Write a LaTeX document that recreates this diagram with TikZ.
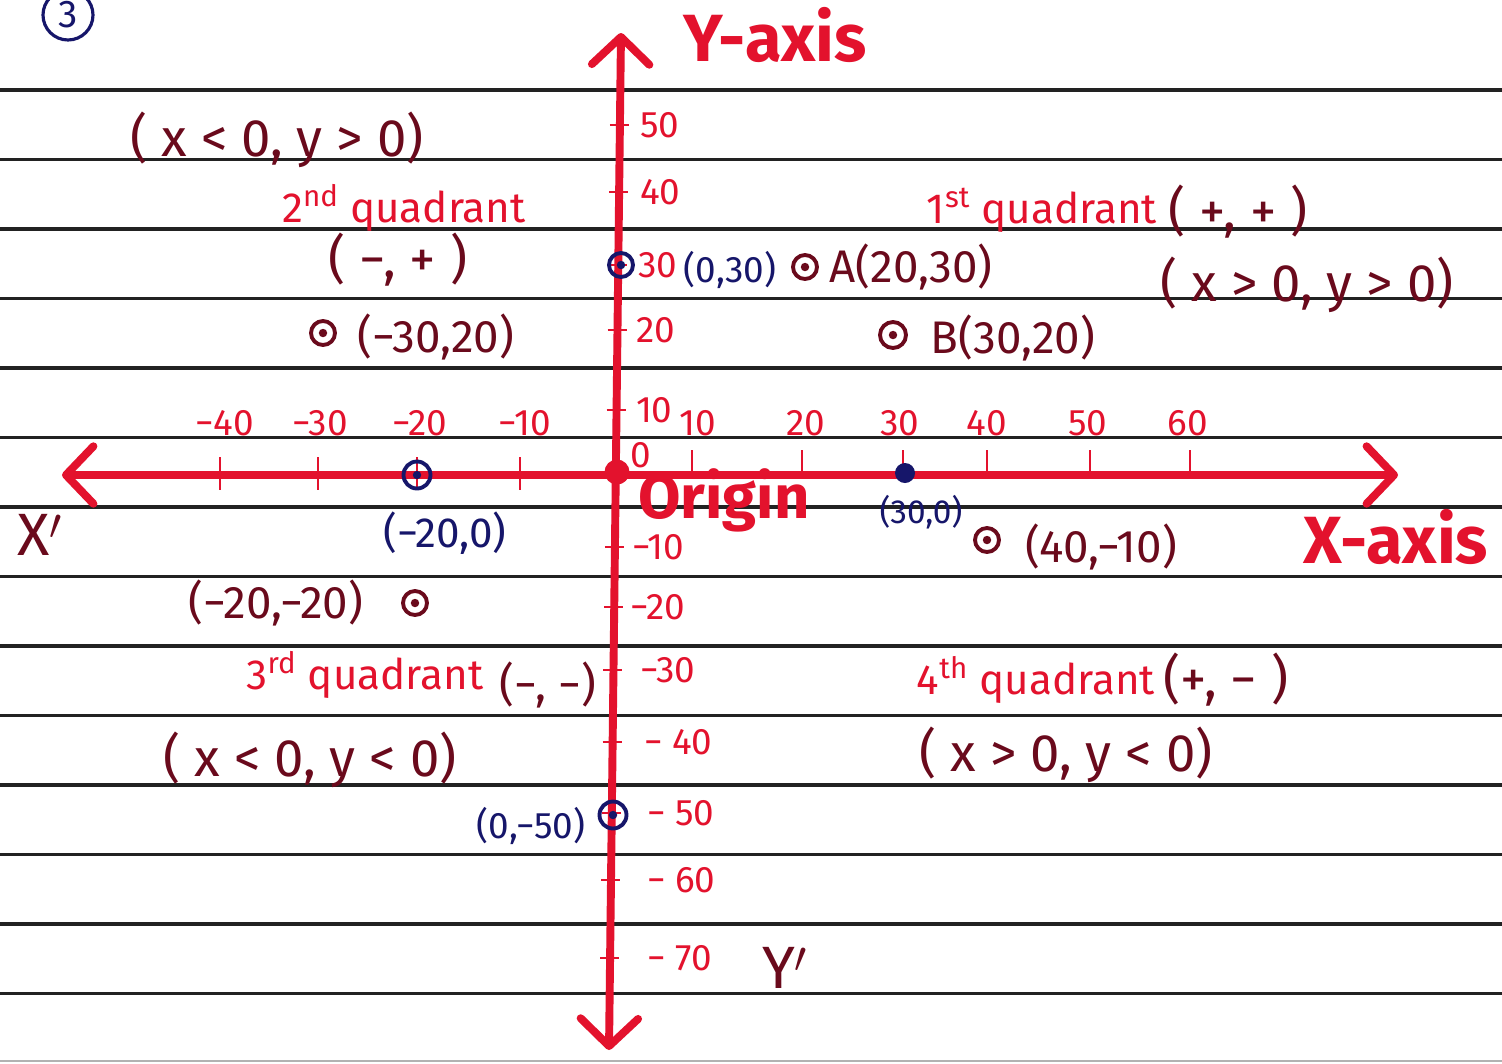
\documentclass[tikz,border=0pt]{standalone}
\usepackage{fontspec}
\setmainfont{Fira Sans}
\usetikzlibrary{arrows.meta}
\definecolor{axisRed}{HTML}{E3122D}
\definecolor{noteMaroon}{HTML}{6A0A1C}
\definecolor{pointNavy}{HTML}{16166A}
\definecolor{ruleBlack}{HTML}{222222}
\tikzset{
  grid sheet/.style={x=0.02cm, y=-0.02cm,
    every node/.style={inner sep=0pt, outer sep=0pt}},
  rule line/.style={draw=ruleBlack, line width=2.2pt},
  axis line/.style={draw=axisRed, line width=4.5pt, line cap=round,
    {Straight Barb[round,length=0.55cm,width=1.15cm]}-{Straight Barb[round,length=0.55cm,width=1.15cm]}},
  axis tick/.style={draw=axisRed, line width=1.6pt},
  tick text/.style={text=axisRed, font=\fontsize{21}{24}\selectfont},
  note text/.style={text=noteMaroon, font=\fontsize{26}{30}\selectfont},
  cond text/.style={text=noteMaroon, font=\fontsize{30}{34}\selectfont},
  quad text/.style={text=axisRed, font=\fontsize{24}{28}\selectfont},
  navy text/.style={text=pointNavy, font=\fontsize{24}{28}\selectfont},
  title text/.style={text=axisRed, font=\fontsize{38}{44}\selectfont\bfseries},
  ring mark/.style={circle, draw=#1, line width=2.2pt, minimum size=0.48cm,
    path picture={\fill[#1] (path picture bounding box.center) circle (2.4pt);}},
  ring mark/.default=noteMaroon,
  solid mark/.style={circle, fill=#1, minimum size=0.4cm}
}
\begin{document}
\begin{tikzpicture}[grid sheet]
  \useasboundingbox[fill=white] (0,0) rectangle (1502,1063);
  % ruled sheet
  \foreach \i in {0,...,13}
    \draw[rule line] (0,{90+69.5*\i}) -- (1502,{90+69.5*\i});
  \draw[gray!60, line width=0.8pt] (0,1061) -- (1502,1061);

  % axes
  \coordinate (xneg) at (62,475);
  \coordinate (xpos) at (1398,475);
  \coordinate (ypos) at (621,33);
  \coordinate (yneg) at (609,1050);
  \draw[axis line] (xneg) -- (xpos);
  \draw[axis line] (yneg) -- (ypos);

  % ticks on x-axis
  \foreach \tx/\lx/\lv [count=\k] in {220/225/−40,318/320/−30,417/420/−20,520/525/−10}{
    \draw[axis tick] (\tx,457) -- (\tx,490);
    \node[tick text] (xt\k) at (\lx,423) {\lv};
  }
  \foreach \tx/\lx/\lv [count=\k] in {692/698/10,802/806/20,903/900/30,987/987/40,1090/1088/50,1190/1188/60}{
    \draw[axis tick] (\tx,450) -- (\tx,475);
    \node[tick text] (xp\k) at (\lx,423) {\lv};
  }
  \node[tick text] (zero) at (641,455) {0};

  % ticks on y-axis
  \foreach \ty/\lx/\lv [count=\k] in {125/640/50,192/640/40,265/638/30,330/636/20,410/636/10,
      547/632/−10,607/630/−20,670/640/−30,742/644/− 40,813/647/− 50,880/647/− 60,958/647/− 70}{
    \pgfmathsetmacro{\ax}{609+12*(1050-\ty)/1015}
    \draw[axis tick] (\ax-10,\ty) -- (\ax+9,\ty);
    \node[tick text, anchor=west] (yt\k) at (\lx,\ty) {\lv};
  }

  % origin and points
  \node[solid mark=axisRed, minimum size=0.5cm] (origin) at (617,472) {};
  \node[ring mark=pointNavy] (p0a) at (621,265) {};
  \node[ring mark=pointNavy, minimum size=0.54cm] (pm20) at (417,475) {};
  \node[ring mark=pointNavy, minimum size=0.54cm] (p0b) at (613,815) {};
  \node[solid mark=pointNavy] (p30) at (905,473) {};
  \node[ring mark] (pA) at (805,267) {};
  \node[ring mark, minimum size=0.52cm] (pB) at (893,335) {};
  \node[ring mark] (pQ2) at (323,333) {};
  \node[ring mark] (pQ3) at (415,603) {};
  \node[ring mark] (pQ4) at (987,540) {};

  % axis titles
  \node[title text] (ytitle) at (775,35) {Y-axis};
  \node[title text] (xtitle) at (1396,537) {X-axis};
  \node[title text, font=\fontsize{35}{42}\selectfont\bfseries] (otitle) at (724,500) {Origin};
  \node[cond text, font=\fontsize{34}{40}\selectfont] (xdash) at (40,535) {X$'$};
  \node[cond text, font=\fontsize{34}{40}\selectfont] (ydash) at (785,968) {Y$'$};
  \node[draw=pointNavy, circle, line width=1.8pt, minimum size=1cm,
    text=pointNavy, font=\fontsize{22}{26}\selectfont] (qnum) at (68,15) {3};

  % quadrant notes
  \node[cond text] (c2) at (277,140) {( x < 0,  y > 0)};
  \node[quad text] (q2) at (404,208) {2\textsuperscript{nd} quadrant};
  \node[cond text] (s2) at (398,260) {( −, + )};
  \node[note text] (t2) at (436,337) {(−30,20)};
  \node[quad text] (q1) at (1042,210) {1\textsuperscript{st} quadrant};
  \node[cond text] (s1) at (1238,212) {( +, + )};
  \node[cond text] (c1) at (1307,285) {( x > 0, y > 0)};
  \node[navy text, font=\fontsize{21}{25}\selectfont] (l0a) at (730,270) {(0,30)};
  \node[note text] (lA) at (911,267) {A(20,30)};
  \node[note text] (lB) at (1013,338) {B(30,20)};
  \node[navy text] (lm20) at (445,533) {(−20,0)};
  \node[navy text, font=\fontsize{19}{22}\selectfont] (l30) at (921,512) {(30,0)};
  \node[note text] (t4) at (1101,547) {(40,−10)};
  \node[note text] (t3) at (276,603) {(−20,−20)};
  \node[quad text] (q3) at (365,675) {3\textsuperscript{rd} quadrant};
  \node[note text] (s3) at (548,685) {(−, −)};
  \node[quad text] (q4) at (1036,680) {4\textsuperscript{th} quadrant};
  \node[cond text] (s4) at (1226,680) {(+, − )};
  \node[cond text] (c3) at (310,760) {( x < 0,  y < 0)};
  \node[cond text] (c4) at (1066,755) {( x > 0,  y < 0)};
  \node[navy text, font=\fontsize{21}{25}\selectfont] (l0b) at (531,826) {(0,−50)};
\end{tikzpicture}
\end{document}
